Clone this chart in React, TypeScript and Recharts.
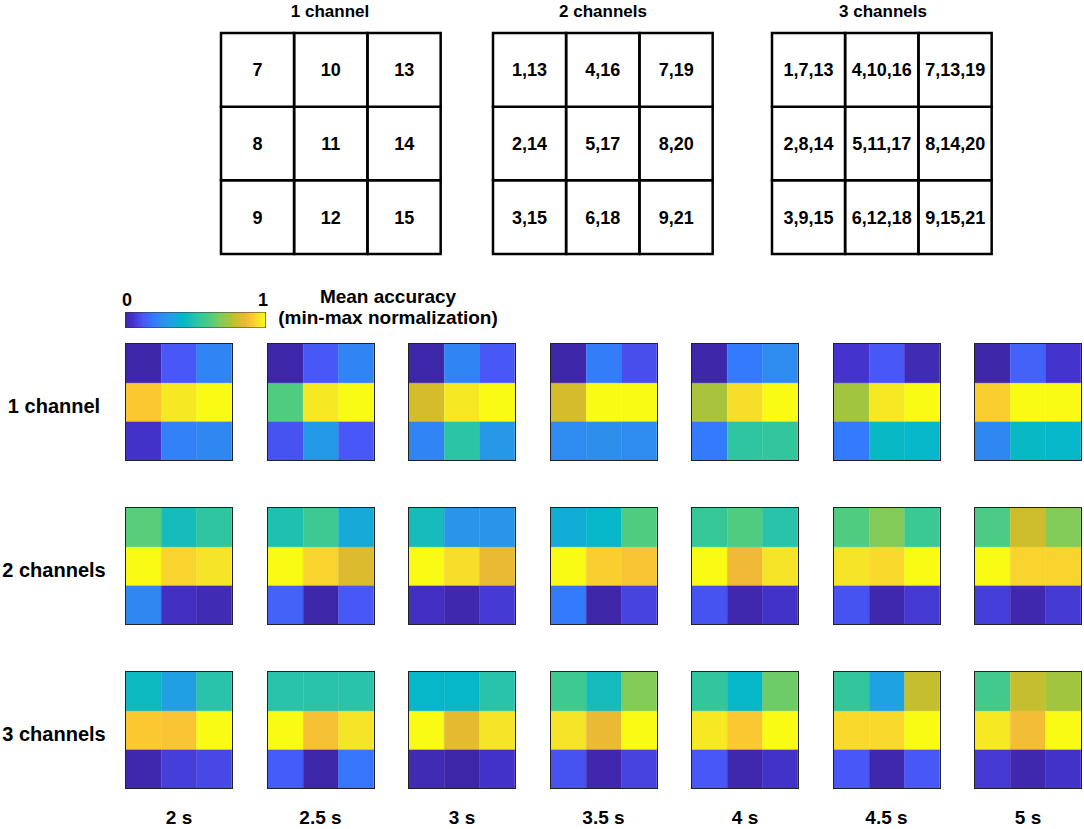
import React from 'react';
import { BarChart, Bar, XAxis, YAxis, Cell, LabelList } from 'recharts';

const durations = ['2 s', '2.5 s', '3 s', '3.5 s', '4 s', '4.5 s', '5 s'];
const configs = ['1 channel', '2 channels', '3 channels'];

// electrode ids per grid cell, row-major (top row first)
const oneChannelIds = ['7', '10', '13', '8', '11', '14', '9', '12', '15'];
const twoChannelIds = ['1,13', '4,16', '7,19', '2,14', '5,17', '8,20', '3,15', '6,18', '9,21'];
const threeChannelIds = ['1,7,13', '4,10,16', '7,13,19', '2,8,14', '5,11,17', '8,14,20', '3,9,15', '6,12,18', '9,15,21'];

// min-max normalized mean accuracy, one 3x3 row-major block per duration
const oneChannelAcc = [
  [0.0, 0.13, 0.23, 0.9, 0.96, 1.0, 0.05, 0.22, 0.24],
  [0.0, 0.13, 0.23, 0.6, 0.96, 1.0, 0.12, 0.3, 0.13],
  [0.0, 0.23, 0.13, 0.8, 0.96, 1.0, 0.23, 0.51, 0.29],
  [0.0, 0.21, 0.11, 0.8, 1.0, 1.0, 0.25, 0.26, 0.25],
  [0.0, 0.2, 0.25, 0.74, 0.94, 1.0, 0.2, 0.52, 0.53],
  [0.06, 0.13, 0.02, 0.73, 0.96, 1.0, 0.2, 0.42, 0.41],
  [0.0, 0.15, 0.06, 0.91, 1.0, 1.0, 0.24, 0.42, 0.41],
];
const twoChannelAcc = [
  [0.62, 0.45, 0.52, 1.0, 0.92, 0.95, 0.24, 0.04, 0.02],
  [0.48, 0.56, 0.36, 1.0, 0.92, 0.82, 0.15, 0.0, 0.13],
  [0.45, 0.28, 0.28, 1.0, 0.94, 0.85, 0.04, 0.01, 0.07],
  [0.37, 0.41, 0.6, 1.0, 0.91, 0.89, 0.2, 0.0, 0.09],
  [0.54, 0.6, 0.5, 1.0, 0.86, 0.95, 0.12, 0.01, 0.05],
  [0.6, 0.68, 0.55, 0.95, 0.93, 1.0, 0.12, 0.01, 0.07],
  [0.59, 0.79, 0.68, 1.0, 0.92, 0.92, 0.08, 0.01, 0.07],
];
const threeChannelAcc = [
  [0.43, 0.32, 0.5, 0.9, 0.89, 1.0, 0.01, 0.08, 0.1],
  [0.5, 0.5, 0.5, 1.0, 0.88, 0.95, 0.14, 0.0, 0.19],
  [0.41, 0.41, 0.5, 1.0, 0.83, 0.95, 0.02, 0.0, 0.05],
  [0.56, 0.45, 0.68, 0.95, 0.85, 1.0, 0.12, 0.01, 0.09],
  [0.53, 0.41, 0.65, 0.96, 0.9, 1.0, 0.13, 0.01, 0.05],
  [0.53, 0.33, 0.78, 0.93, 0.93, 1.0, 0.13, 0.01, 0.13],
  [0.57, 0.78, 0.73, 0.96, 0.87, 1.0, 0.07, 0.01, 0.05],
];

const accByConfig = [oneChannelAcc, twoChannelAcc, threeChannelAcc];
const idsByConfig = [oneChannelIds, twoChannelIds, threeChannelIds];

// parula-like colormap stops
const PARULA: [number, number, number, number][] = [
  [0.0, 62, 38, 168],
  [0.06, 68, 52, 205],
  [0.13, 72, 88, 247],
  [0.2, 52, 122, 252],
  [0.26, 45, 142, 236],
  [0.33, 30, 162, 225],
  [0.41, 5, 183, 200],
  [0.5, 40, 195, 170],
  [0.57, 65, 202, 140],
  [0.62, 90, 205, 120],
  [0.68, 130, 203, 88],
  [0.75, 175, 195, 55],
  [0.8, 212, 188, 42],
  [0.86, 240, 185, 55],
  [0.9, 252, 200, 50],
  [0.95, 245, 228, 40],
  [1.0, 249, 251, 20],
];

const parula = (v: number) => {
  const t = Math.max(0, Math.min(1, v));
  for (let i = 1; i < PARULA.length; i++) {
    const a = PARULA[i - 1];
    const b = PARULA[i];
    if (t <= b[0]) {
      const f = (t - a[0]) / (b[0] - a[0]);
      const c = [1, 2, 3].map((k) => Math.round(a[k] + (b[k] - a[k]) * f));
      return `rgb(${c[0]},${c[1]},${c[2]})`;
    }
  }
  return 'rgb(249,251,20)';
};

const FONT = '"Liberation Sans", Arial, sans-serif';
// stacked from the bottom: key + grid row index
const ROWS: [string, number][] = [['bot', 2], ['mid', 1], ['top', 0]];

const Heatmap = ({ values }: { values: number[] }) => {
  const table = [0, 1, 2].map((c) => ({ col: c, top: 1, mid: 1, bot: 1 }));
  return (
    <BarChart width={106} height={116} data={table} margin={{ top: 0, right: 0, bottom: 0, left: 0 }} barCategoryGap={0} barGap={0}>
      <XAxis dataKey="col" hide />
      <YAxis hide domain={[0, 3]} />
      {ROWS.map(([key, r]) => (
        <Bar key={key} dataKey={key} stackId="a" isAnimationActive={false}>
          {table.map((d) => {
            const fill = parula(values[r * 3 + d.col]);
            return <Cell key={d.col} fill={fill} stroke={fill} strokeWidth={0.6} />;
          })}
        </Bar>
      ))}
    </BarChart>
  );
};

const IdGrid = ({ ids }: { ids: string[] }) => {
  const table = [0, 1, 2].map((c) => ({
    col: c, top: 1, mid: 1, bot: 1,
    topId: ids[c], midId: ids[3 + c], botId: ids[6 + c],
  }));
  return (
    <BarChart width={224} height={225} data={table} margin={{ top: 2, right: 2, bottom: 2, left: 2 }} barCategoryGap={0} barGap={0}>
      <XAxis dataKey="col" hide />
      <YAxis hide domain={[0, 3]} />
      {ROWS.map(([key]) => (
        <Bar key={key} dataKey={key} stackId="a" fill="#fff" stroke="#000" strokeWidth={2.5} isAnimationActive={false}>
          <LabelList dataKey={`${key}Id`} position="center" fill="#000" fontSize={18} fontWeight="bold" fontFamily={FONT} />
        </Bar>
      ))}
    </BarChart>
  );
};

const ColorBar = () => (
  <BarChart width={141} height={16} layout="vertical" data={[{ name: 'cb', v: 1 }]} margin={{ top: 0, right: 0, bottom: 0, left: 0 }} barCategoryGap={0}>
    <defs>
      <linearGradient id="parulaGrad" x1="0" y1="0" x2="1" y2="0">
        {PARULA.map((s) => (
          <stop key={s[0]} offset={s[0]} stopColor={`rgb(${s[1]},${s[2]},${s[3]})`} />
        ))}
      </linearGradient>
    </defs>
    <XAxis type="number" domain={[0, 1]} hide />
    <YAxis type="category" dataKey="name" hide />
    <Bar dataKey="v" fill="url(#parulaGrad)" stroke="#333" strokeWidth={1.2} isAnimationActive={false} />
  </BarChart>
);

const txt = (x: number, y: number, size: number): React.CSSProperties => ({
  position: 'absolute', left: x, top: y, transform: 'translate(-50%, -50%)',
  fontSize: size, fontWeight: 'bold', whiteSpace: 'nowrap', color: '#000', lineHeight: 1.15,
});

const gridLefts = [219, 491, 770];
const gridTitleX = [330, 603, 883];
const boxLeft = (i: number) => 125 + i * 141.5;
const boxTop = (r: number) => 343 + r * 164;

export default function App() {
  return (
    <div style={{ position: 'absolute', left: 0, top: 0, width: 1084, height: 829, background: '#fff', fontFamily: FONT, overflow: 'hidden' }}>
      {configs.map((c, g) => (
        <React.Fragment key={c}>
          <div style={txt(gridTitleX[g], 12, 17)}>{c}</div>
          <div style={{ position: 'absolute', left: gridLefts[g], top: 31 }}>
            <IdGrid ids={idsByConfig[g]} />
          </div>
        </React.Fragment>
      ))}

      <div style={{ position: 'absolute', left: 125, top: 312 }}>
        <ColorBar />
      </div>
      <div style={txt(127, 300, 18)}>0</div>
      <div style={txt(263, 300, 18)}>1</div>
      <div style={txt(388, 297, 19)}>Mean accuracy</div>
      <div style={txt(388, 318, 19)}>(min-max normalization)</div>

      {configs.map((c, r) => (
        <React.Fragment key={c}>
          <div style={txt(54, boxTop(r) + 63, 20)}>{c}</div>
          {durations.map((d, i) => (
            <div key={d} style={{ position: 'absolute', left: boxLeft(i), top: boxTop(r), border: '1.5px solid #222', width: 106, height: 116 }}>
              <Heatmap values={accByConfig[r][i]} />
            </div>
          ))}
        </React.Fragment>
      ))}

      {durations.map((d, i) => (
        <div key={d} style={txt(boxLeft(i) + 54, 818, 19)}>{d}</div>
      ))}
    </div>
  );
}
